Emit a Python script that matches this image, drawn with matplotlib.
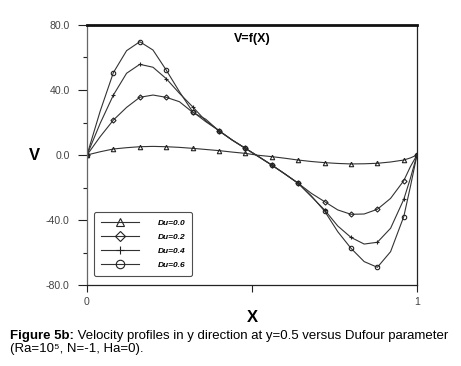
import matplotlib.pyplot as plt

plt.rcParams['font.family'] = ['Liberation Sans', 'DejaVu Sans']

# x positions (markers sit on every 0.08 step and at x=1)
x = [0.0, 0.04, 0.08, 0.12, 0.16, 0.20, 0.24, 0.28, 0.32, 0.36, 0.40, 0.44, 0.48,
     0.52, 0.56, 0.60, 0.64, 0.68, 0.72, 0.76, 0.80, 0.84, 0.88, 0.92, 0.96, 0.98, 1.0]
marker_idx = list(range(0, 25, 2)) + [26]

# velocity V for each Dufour number
v_du00 = [0, 2.0, 3.7, 4.5, 5.1, 5.3, 5.1, 4.7, 4.1, 3.4, 2.7, 1.8, 1.0,
          -0.2, -1.0, -2.0, -3.1, -4.0, -4.7, -5.2, -5.5, -5.4, -5.1, -4.3, -3.1, -1.8, 0]
v_du02 = [0, 11.3, 21.5, 29.3, 35.5, 36.9, 35.5, 32.8, 26.3, 22.0, 14.8, 9.2, 4.1,
          -1.0, -6.2, -11.7, -17.4, -23.6, -28.7, -33.8, -36.5, -36.3, -33.4, -26.7, -15.8, -7.2, 0]
v_du04 = [0, 19.5, 36.9, 50.3, 55.8, 54.0, 47.0, 38.0, 29.7, 21.0, 15.0, 9.2, 4.1,
          -1.0, -6.2, -11.7, -17.4, -25.6, -33.8, -43.7, -50.7, -54.8, -53.7, -45.1, -27.3, -14.4, 0]
v_du06 = [0, 27.0, 50.7, 64.2, 69.7, 64.6, 52.3, 39.0, 26.7, 20.5, 15.0, 9.2, 4.1,
          -1.0, -6.2, -11.7, -17.4, -25.2, -34.5, -47.2, -57.4, -65.6, -69.1, -59.5, -37.9, -19.5, 0]

labels = ['Du=0.0', 'Du=0.2', 'Du=0.4', 'Du=0.6']
markers = ['^', 'D', '+', 'o']

fig = plt.figure(figsize=(4.61, 3.66), dpi=100)
ax = fig.add_axes([0.1887, 0.2213, 0.7158, 0.7104])

for v, lab, m in zip([v_du00, v_du02, v_du04, v_du06], labels, markers):
    ax.plot(x, v, color='#333333', lw=0.8, marker=m, markevery=marker_idx,
            markersize=3.2 if m != 'D' else 2.6,
            markerfacecolor='none', markeredgecolor='#222222', markeredgewidth=0.8, label=lab)

ax.set_xlim(0, 1)
ax.set_ylim(-80, 80)
ax.set_xticks([0, 0.5, 1])
ax.set_xticklabels(['0', '', '1'])
ax.set_yticks([-80, -40, 0, 40, 80])
ax.set_yticklabels(['-80.0', '-40.0', '0.0', '40.0', '80.0'])
ax.set_yticks([-60, -20, 20, 60], minor=True)
ax.tick_params(axis='both', which='major', direction='out', length=6.5, width=0.8,
               labelsize=7.6, labelcolor='#444444', color='#222222')
ax.tick_params(axis='y', which='major', pad=6)
ax.tick_params(axis='y', which='minor', direction='out', length=3, width=0.8, color='#222222')
ax.tick_params(axis='x', which='major', length=5)

for s in ['left', 'right', 'bottom']:
    ax.spines[s].set_linewidth(0.9)
    ax.spines[s].set_color('#222222')
ax.spines['left'].set_color('#666666')
ax.spines['top'].set_linewidth(2.0)
ax.spines['top'].set_color('#111111')

ax.text(0.5, 0.945, 'V=f(X)', transform=ax.transAxes, ha='center', va='center',
        fontsize=9, fontweight='bold')
ax.set_xlabel('X', fontsize=12, fontweight='bold', labelpad=2)
ax.set_ylabel('V', fontsize=12, fontweight='bold', rotation=0, labelpad=8, va='center')

leg = ax.legend(loc='lower left', bbox_to_anchor=(0.01, 0.02), frameon=True,
                fancybox=True, edgecolor='#222222', handlelength=4.6, markerscale=1.9,
                labelspacing=0.75, borderpad=0.8, handletextpad=2.2,
                prop={'style': 'italic', 'weight': 'bold', 'size': 6})
leg.get_frame().set_linewidth(0.8)

t1 = fig.text(0.022, 0.075, 'Figure 5b:', fontsize=9.5, fontweight='bold', va='baseline')
ax.annotate(' Velocity profiles in y direction at y=0.5 versus Dufour parameter',
            xy=(1, 0), xycoords=t1, fontsize=9.5, va='bottom')
fig.text(0.022, 0.037, '(Ra=10⁵, N=-1, Ha=0).', fontsize=9.5, va='baseline')

plt.savefig('out.png', dpi=100)
